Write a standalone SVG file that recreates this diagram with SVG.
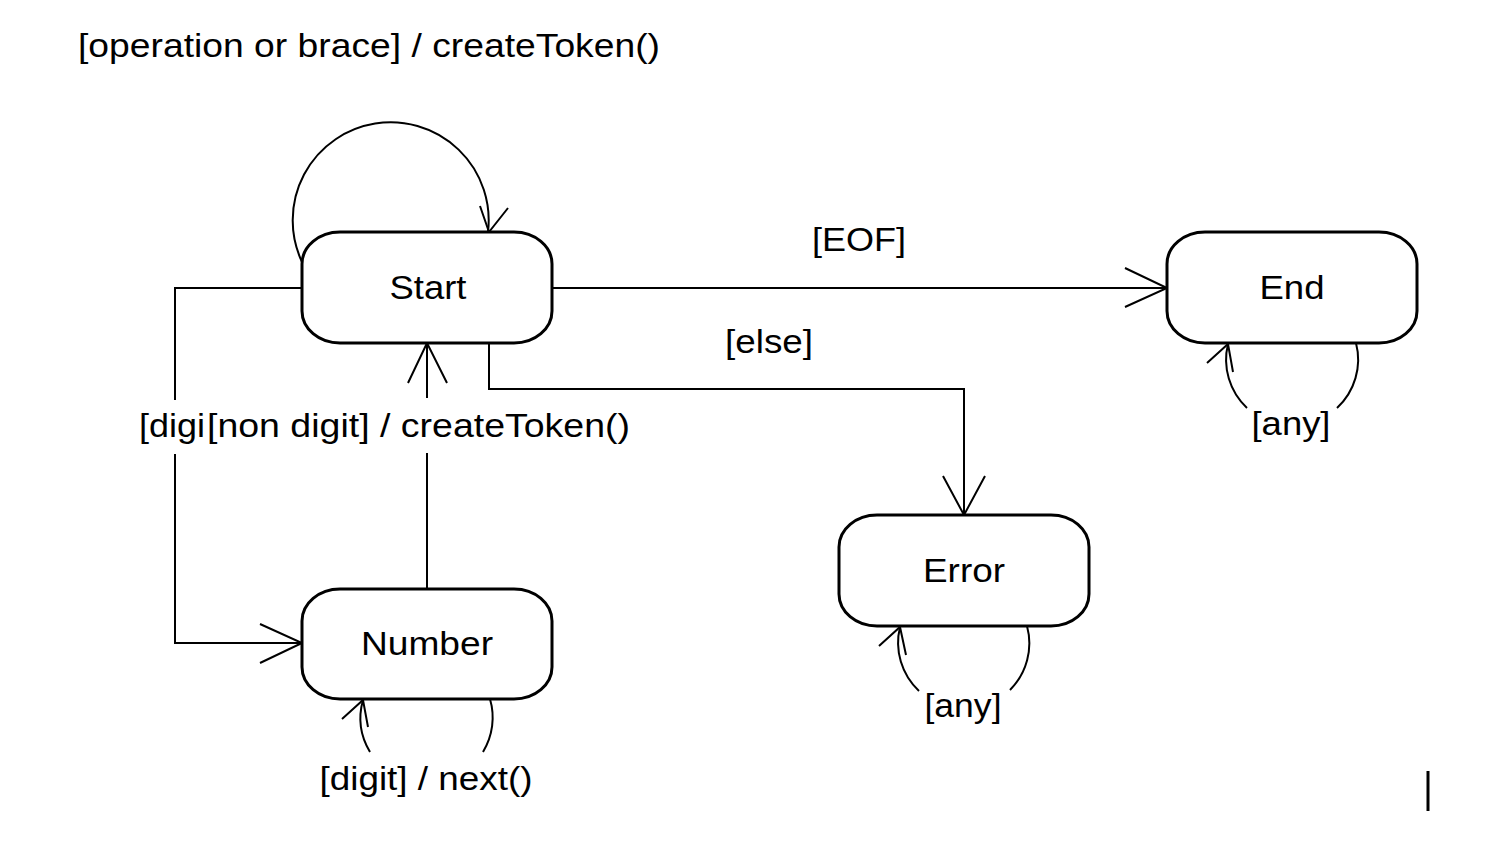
<svg xmlns="http://www.w3.org/2000/svg" width="1500" height="846" viewBox="0 0 1500 846">
<style>
.node rect{fill:#fff;stroke:#000;stroke-width:3}
.lbl{font-family:"Liberation Sans",Arial,sans-serif;font-size:33px;fill:#000}
.c{text-anchor:middle}
#connectors path,#connectors line{fill:none;stroke:#000;stroke-width:2}
</style>
<rect width="1500" height="846" fill="#fff"/>
<text class="lbl" x="78" y="57" textLength="582" lengthAdjust="spacingAndGlyphs">[operation or brace] / createToken()</text>
<g id="connectors">
  <!-- Start self loop -->
  <path d="M302,262 A98,98 0 1 1 488,232"/>
  <path d="M480,206 L489,232 L508,208"/>
  <!-- Start -> End -->
  <line x1="552" y1="288" x2="1167" y2="288"/>
  <path d="M1125,268 L1167,288 L1125,307"/>
  <!-- Start -> Error -->
  <path d="M489,343 V389 H964 V515"/>
  <path d="M943,476 L964,515 L985,476"/>
  <!-- Start -> Number -->
  <path d="M302,288 H175 V400"/>
  <path d="M175,454 V643 H302"/>
  <path d="M260,624 L302,643 L260,663"/>
  <!-- Number -> Start -->
  <line x1="427" y1="343" x2="427" y2="398"/>
  <line x1="427" y1="453" x2="427" y2="589"/>
  <path d="M408,383 L427,343 L447,383"/>
  <!-- Number self loop -->
  <path d="M490,699 A66,66 0 0 1 483,752"/>
  <path d="M370,752 A66,66 0 0 1 363,700"/>
  <path d="M342,719 L363,700 L368,727"/>
  <!-- End self loop -->
  <path d="M1356,343 A66,66 0 0 1 1337,408"/>
  <path d="M1247,408 A66,66 0 0 1 1228,344"/>
  <path d="M1207,363 L1228,344 L1233,372"/>
  <!-- Error self loop -->
  <path d="M1027,626 A66,66 0 0 1 1010,690"/>
  <path d="M919,691 A66,66 0 0 1 900,627"/>
  <path d="M879,646 L900,627 L906,655"/>
</g>
<g id="labels">
  <text class="lbl c" x="859" y="251" textLength="94" lengthAdjust="spacingAndGlyphs">[EOF]</text>
  <text class="lbl c" x="769" y="353" textLength="88" lengthAdjust="spacingAndGlyphs">[else]</text>
  <text class="lbl" x="139" y="437" textLength="66" lengthAdjust="spacingAndGlyphs">[digi</text>
  <text class="lbl" x="207" y="437" textLength="423" lengthAdjust="spacingAndGlyphs">[non digit] / createToken()</text>
  <text class="lbl c" x="426" y="790" textLength="213" lengthAdjust="spacingAndGlyphs">[digit] / next()</text>
  <text class="lbl c" x="1291" y="435" textLength="79" lengthAdjust="spacingAndGlyphs">[any]</text>
  <text class="lbl c" x="963" y="717" textLength="77" lengthAdjust="spacingAndGlyphs">[any]</text>
</g>
<g id="start" class="node">
  <rect x="302" y="232" width="250" height="111" rx="38" ry="32"/>
  <text class="lbl c" x="428" y="299" textLength="77" lengthAdjust="spacingAndGlyphs">Start</text>
</g>
<g id="end" class="node">
  <rect x="1167" y="232" width="250" height="111" rx="38" ry="32"/>
  <text class="lbl c" x="1292" y="299" textLength="65" lengthAdjust="spacingAndGlyphs">End</text>
</g>
<g id="error" class="node">
  <rect x="839" y="515" width="250" height="111" rx="38" ry="32"/>
  <text class="lbl c" x="964" y="582" textLength="82" lengthAdjust="spacingAndGlyphs">Error</text>
</g>
<g id="number" class="node">
  <rect x="302" y="589" width="250" height="110" rx="38" ry="32"/>
  <text class="lbl c" x="427" y="655" textLength="132" lengthAdjust="spacingAndGlyphs">Number</text>
</g>
<line x1="1428" y1="771" x2="1428" y2="811" stroke="#000" stroke-width="3"/>
</svg>
